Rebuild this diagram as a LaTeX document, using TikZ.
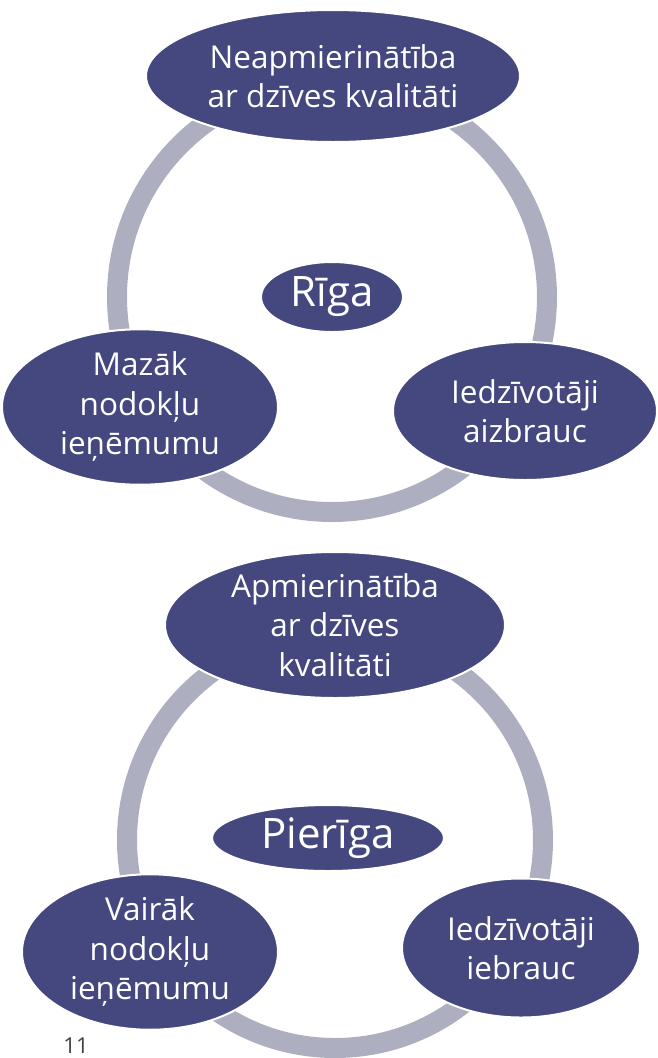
\documentclass[tikz,border=0pt]{standalone}
\usepackage{fontspec}
\setmainfont{Open Sans}
\usetikzlibrary{shapes.geometric}
\definecolor{ellfill}{HTML}{45487E}
\definecolor{ringcol}{HTML}{ADAFC0}
\definecolor{pagenum}{HTML}{404040}
\tikzset{
  ringline/.style={draw=ringcol, line width=20pt},
  bubble/.style={ellipse, fill=ellfill, draw=white, line width=2pt, inner sep=0pt,
    text=white, align=center, font=\fontsize{31.5}{39.5}\selectfont},
  hub/.style={bubble, font=\fontsize{42}{48}\selectfont}
}
\begin{document}
\begin{tikzpicture}[x=1pt,y=-1pt]
\useasboundingbox (0,0) rectangle (658,1058);
% top cycle
\coordinate (c1) at (332,297);
\draw[ringline] (c1) circle[radius=215pt];
\node[bubble, minimum width=374pt, minimum height=132pt] (t1) at (333,76) {Neapmierinātība\\ar dzīves kvalitāti};
\node[bubble, minimum width=276pt, minimum height=141pt] (l1) at (140,407) {Mazāk\\nodokļu\\ieņēmumu};
\node[bubble, minimum width=264pt, minimum height=138pt] (r1) at (525,411) {Iedzīvotāji\\aizbrauc};
\node[hub, minimum width=142pt, minimum height=70pt] (riga) at (c1) {Rīga};
% bottom cycle
\coordinate (c2) at (335,840);
\draw[ringline] (c2) circle[radius=208pt];
\node[bubble, minimum width=340pt, minimum height=134pt] (t2) at (335,625) {Apmierinātība\\ar dzīves\\kvalitāti};
\node[bubble, minimum width=256pt, minimum height=130pt] (l2) at (150,952) {Vairāk\\nodokļu\\ieņēmumu};
\node[bubble, minimum width=238pt, minimum height=139pt] (r2) at (521,948) {Iedzīvotāji\\iebrauc};
\node[hub, minimum width=232pt, minimum height=66pt] (pieriga) at (328,838) {Pierīga};
% page number
\node[text=pagenum, font=\fontsize{22}{26}\selectfont, inner sep=0pt] (pn) at (76,1046) {11};
\end{tikzpicture}
\end{document}
